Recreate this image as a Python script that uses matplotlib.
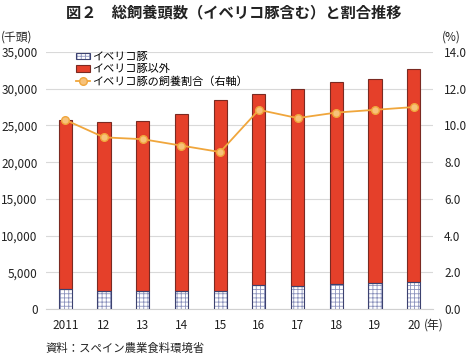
import numpy as np
import matplotlib
matplotlib.use('Agg')
import matplotlib.pyplot as plt
from matplotlib.ticker import FuncFormatter

plt.rcParams['font.family'] = ['Noto Sans CJK JP', 'DejaVu Sans']
plt.rcParams['hatch.linewidth'] = 0.6

years = ['2011', '12', '13', '14', '15', '16', '17', '18', '19', '20']
iberico = [2680, 2450, 2450, 2450, 2420, 3220, 3090, 3360, 3500, 3720]  # 千頭
total = [25700, 25400, 25550, 26600, 28400, 29300, 30000, 30850, 31300, 32750]
other = [t - i for t, i in zip(total, iberico)]
ratio = [10.3, 9.35, 9.25, 8.9, 8.55, 10.85, 10.4, 10.7, 10.85, 11.0]  # %

red = '#e5402a'
navy = '#3c4270'
orange = '#f0a63c'

fig = plt.figure(figsize=(4.67, 3.55), dpi=100)
ax = fig.add_axes([46/467, 1 - 309/355, 387/467, 257/355])
x = np.arange(len(years))
w = 0.34

# hatch in light blue-grey, outline drawn separately in dark navy
hb = ax.bar(x, iberico, w, color='white', edgecolor='#8c93bd', hatch='++++', linewidth=0,
            zorder=3)
ob = ax.bar(x, iberico, w, fill=False, edgecolor=navy, linewidth=0.8, zorder=3.1)
rb = ax.bar(x, other, w, bottom=iberico, color=red, edgecolor='#7a2a22', linewidth=0.8,
            zorder=3)

ax.set_xlim(-0.5, len(years) - 0.5)
ax.set_ylim(0, 35000)
ax.set_yticks(np.arange(0, 35001, 5000))
ax.yaxis.set_major_formatter(FuncFormatter(lambda v, p: f'{int(v):,}'))
ax.set_xticks(x)
ax.set_xticklabels(years)
ax.grid(axis='y', color='#d9d9d9', linewidth=0.8, zorder=0)
ax.set_axisbelow(True)
for s in ['top', 'left', 'right']:
    ax.spines[s].set_visible(False)
ax.spines['bottom'].set_color('#d0d0d0')
ax.tick_params(axis='both', length=0, labelsize=8.5, colors='#222222')
ax.tick_params(axis='x', pad=7)
ax.tick_params(axis='y', pad=6)

ax2 = ax.twinx()
ln, = ax2.plot(x, ratio, color=orange, linewidth=1.3, marker='o', markersize=5.5,
               markerfacecolor='#f7c27a', markeredgecolor=orange, markeredgewidth=1.0,
               zorder=4)
ax2.set_ylim(0, 14)
ax2.set_yticks(np.arange(0, 14.1, 2))
ax2.yaxis.set_major_formatter(FuncFormatter(lambda v, p: f'{v:.1f}'))
for s in ['top', 'left', 'right', 'bottom']:
    ax2.spines[s].set_visible(False)
ax2.tick_params(axis='y', length=0, labelsize=8.5, colors='#222222', pad=8)

fig.legend([(hb[0], ob[0]), rb[0], ln],
           ['イベリコ豚', 'イベリコ豚以外', 'イベリコ豚の飼養割合（右軸）'],
           loc='upper left', bbox_to_anchor=(76/467, 1 - 52/355),
           frameon=False, fontsize=8, labelspacing=0.2, handlelength=1.3,
           handleheight=0.55, handletextpad=0.15, borderpad=0, borderaxespad=0)

fig.text(0.5, 1 - 12/355, '図２　総飼養頭数（イベリコ豚含む）と割合推移', ha='center', va='center',
         fontsize=11, fontweight='bold', color='#222222')
fig.text(1/467, 1 - 37/355, '(千頭)', ha='left', va='center', fontsize=8.5, color='#222222')
fig.text(442/467, 1 - 37/355, '(%)', ha='left', va='center', fontsize=8.5, color='#222222')
fig.text(424/467, 1 - 325/355, '(年)', ha='left', va='center', fontsize=8.5, color='#222222')
fig.text(45/467, 1 - 348/355, '資料：スペイン農業食料環境省', ha='left', va='center',
         fontsize=8.2, color='#222222')

fig.savefig('out.png', dpi=100)
